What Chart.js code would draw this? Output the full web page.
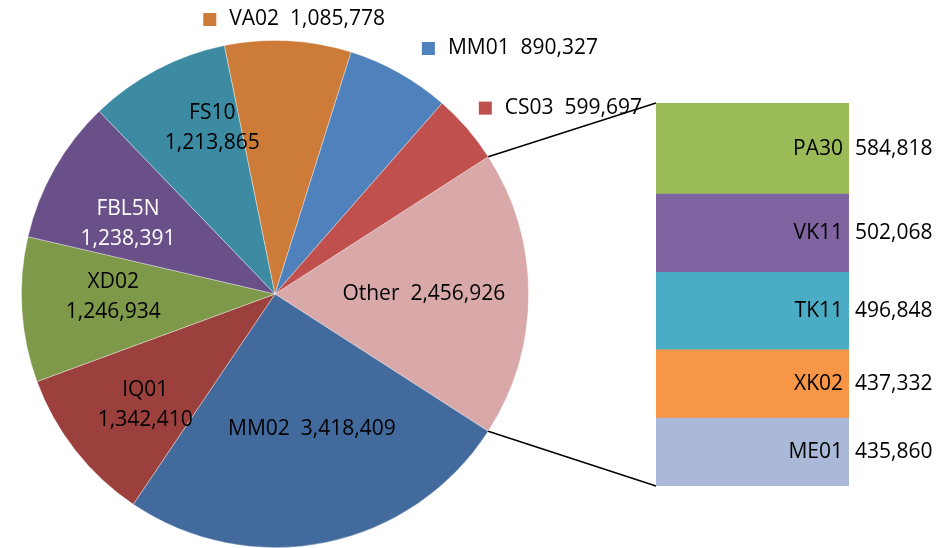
<!DOCTYPE html>
<html>
<head>
<meta charset="utf-8">
<script src="https://cdn.jsdelivr.net/npm/chart.js@4.4.0/dist/chart.umd.min.js"></script>
<style>
  html, body { margin: 0; padding: 0; background: #fff; }
  #wrap { position: relative; width: 939px; height: 548px; overflow: hidden; }
  .layer { position: absolute; left: 0; top: 0; width: 939px; height: 548px; }
</style>
</head>
<body>
<div id="wrap">
  <div class="layer"><canvas id="pieChart"></canvas></div>
  <div class="layer"><canvas id="barChart"></canvas></div>
</div>
<script>
// Pie slices (clockwise, starting with the "Other" slice facing the bar)
const pieNames = ["Other", "MM02", "IQ01", "XD02", "FBL5N", "FS10", "VA02", "MM01", "CS03"];
const pieValues = [2456926, 3418409, 1342410, 1246934, 1238391, 1213865, 1085778, 890327, 599697];

// Breakdown of "Other" (top to bottom in the bar)
const otherNames = ["PA30", "VK11", "TK11", "XK02", "ME01"];
const otherValues = [584818, 502068, 496848, 437332, 435860];

const pieColors = ["#D9A9A9", "#426A9C", "#9C403E", "#7F994A", "#6A5088", "#3C8BA3", "#CD7B39", "#4F81BD", "#C0504D"];
const barColors = ["#9BBB59", "#8064A2", "#4BACC6", "#F79646", "#A9B9D7"];

// label placement: mode, angle nudge (deg), radius fraction, text colour
const pieLabelStyle = [
  { mode: "inline", dA: 0, f: 0.587, color: "#000" },
  { mode: "inline", dA: -3.7, f: 0.55, color: "#000" },
  { mode: "stack", dA: -2.4, f: 0.673, color: "#000" },
  { mode: "stack", dA: 2.6, f: 0.638, color: "#000" },
  { mode: "stack", dA: -4.1, f: 0.642, color: "#fff" },
  { mode: "stack", dA: 7, f: 0.70, color: "#000" },
  { mode: "outside", dA: 1, f: 1.085, color: "#000" },
  { mode: "outside", dA: 14.4, f: 1.34, color: "#000" },
  { mode: "outside", dA: 7.7, f: 1.343, color: "#000" }
];

const FONT = '21px "Open Sans", sans-serif';
const fmt = (v) => v.toLocaleString("en-US");

const pieTotal = pieValues.reduce((a, b) => a + b, 0);
const otherShare = pieValues[0] / pieTotal;

const pieLabels = {
  id: "pieLabels",
  afterDatasetsDraw(chart) {
    const ctx = chart.ctx;
    const arcs = chart.getDatasetMeta(0).data;
    ctx.save();
    ctx.font = FONT;
    ctx.textBaseline = "middle";
    arcs.forEach((arc, i) => {
      const st = pieLabelStyle[i];
      const mid = (arc.startAngle + arc.endAngle) / 2 + st.dA * Math.PI / 180;
      const r = arc.outerRadius * st.f;
      const x = arc.x + Math.cos(mid) * r;
      const y = arc.y + Math.sin(mid) * r;
      const name = pieNames[i];
      const val = fmt(pieValues[i]);
      ctx.fillStyle = st.color;
      if (st.mode === "stack") {
        ctx.textAlign = "center";
        ctx.fillText(name, x, y - 15);
        ctx.fillText(val, x, y + 15);
      } else if (st.mode === "inline") {
        ctx.textAlign = "center";
        ctx.fillText(name + "  " + val, x, y);
      } else {
        const txt = name + "  " + val;
        const w = 13 + 13 + ctx.measureText(txt).width;
        const x0 = x - w / 2;
        ctx.fillStyle = pieColors[i];
        ctx.fillRect(x0, y - 6.5, 13, 13);
        ctx.fillStyle = st.color;
        ctx.textAlign = "left";
        ctx.fillText(txt, x0 + 26, y);
      }
    });
    ctx.restore();
  }
};

new Chart(document.getElementById("pieChart"), {
  type: "pie",
  data: {
    labels: pieNames,
    datasets: [{
      data: pieValues,
      backgroundColor: pieColors,
      borderColor: "rgba(255,255,255,0.45)",
      borderWidth: 0.8
    }]
  },
  options: {
    responsive: true,
    maintainAspectRatio: false,
    animation: false,
    events: [],
    rotation: 90 - otherShare * 180,
    layout: { padding: { left: 21, right: 410, top: 40, bottom: 0 } },
    plugins: { legend: { display: false }, tooltip: { enabled: false } }
  },
  plugins: [pieLabels]
});

const otherTotal = otherValues.reduce((a, b) => a + b, 0);

const barLabels = {
  id: "barLabels",
  afterDatasetsDraw(chart) {
    const ctx = chart.ctx;
    ctx.save();
    ctx.font = FONT;
    ctx.textBaseline = "middle";
    ctx.fillStyle = "#000";
    chart.data.datasets.forEach((ds, di) => {
      const bar = chart.getDatasetMeta(di).data[0];
      const cy = (bar.y + bar.base) / 2;
      const right = bar.x + bar.width / 2;
      ctx.textAlign = "right";
      ctx.fillText(ds.label, right - 6, cy);
      ctx.textAlign = "left";
      ctx.fillText(fmt(ds.data[0]), right + 6, cy);
    });

    // connector lines from the "Other" slice to the bar
    const pie = Chart.getChart("pieChart");
    const arc = pie.getDatasetMeta(0).data[0];
    const first = chart.getDatasetMeta(0).data[0];
    const last = chart.getDatasetMeta(chart.data.datasets.length - 1).data[0];
    const left = first.x - first.width / 2;
    ctx.strokeStyle = "#000";
    ctx.lineWidth = 1.5;
    ctx.beginPath();
    ctx.moveTo(arc.x + Math.cos(arc.startAngle) * arc.outerRadius, arc.y + Math.sin(arc.startAngle) * arc.outerRadius);
    ctx.lineTo(left, last.y);
    ctx.moveTo(arc.x + Math.cos(arc.endAngle) * arc.outerRadius, arc.y + Math.sin(arc.endAngle) * arc.outerRadius);
    ctx.lineTo(left, first.base);
    ctx.stroke();
    ctx.restore();
  }
};

// stacked bottom-up, so reverse the top-to-bottom lists
const barDatasets = otherNames.map((n, i) => ({
  label: n,
  data: [otherValues[i]],
  backgroundColor: barColors[i],
  borderWidth: 0,
  barPercentage: 1,
  categoryPercentage: 1
})).reverse();

new Chart(document.getElementById("barChart"), {
  type: "bar",
  data: { labels: ["Other"], datasets: barDatasets },
  options: {
    responsive: true,
    maintainAspectRatio: false,
    animation: false,
    events: [],
    layout: { padding: { left: 656, right: 90, top: 103, bottom: 62 } },
    scales: {
      x: { stacked: true, display: false },
      y: { stacked: true, display: false, min: 0, max: otherTotal }
    },
    plugins: { legend: { display: false }, tooltip: { enabled: false } }
  },
  plugins: [barLabels]
});
</script>
</body>
</html>
